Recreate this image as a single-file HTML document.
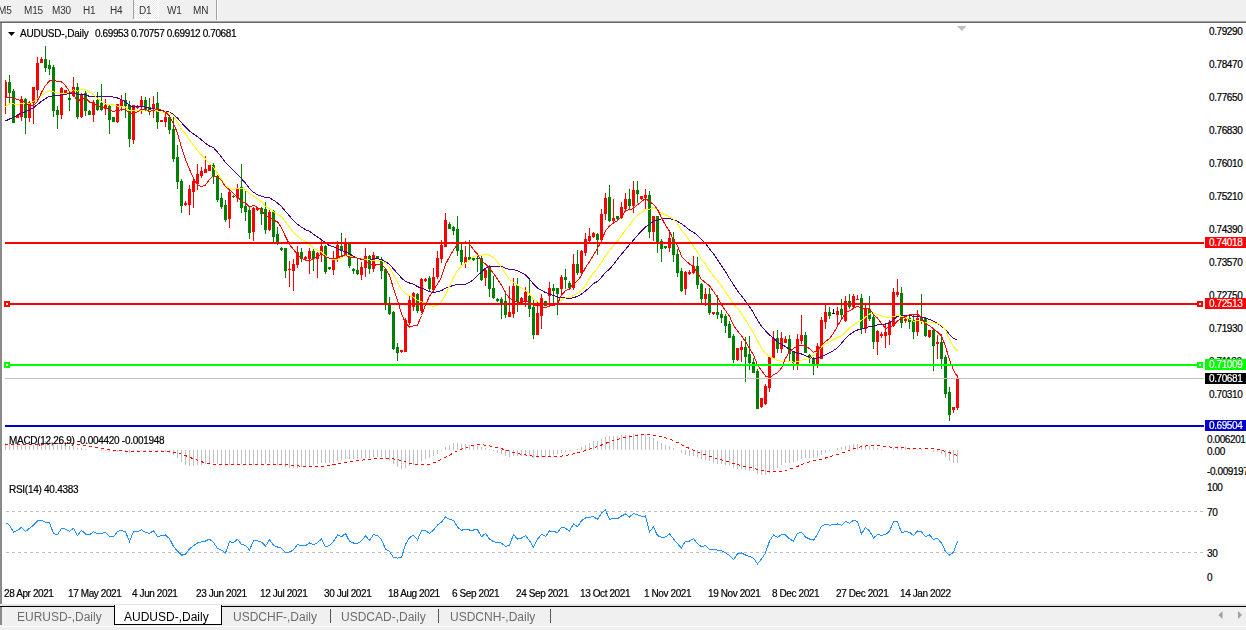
<!DOCTYPE html>
<html><head><meta charset="utf-8"><style>
*{margin:0;padding:0;box-sizing:border-box}
html,body{width:1246px;height:630px;overflow:hidden;background:#f0f0f0;font-family:"Liberation Sans",sans-serif}
.t{position:absolute;white-space:nowrap;line-height:11px;font-size:10px;letter-spacing:-0.4px;color:#000;-webkit-text-stroke:0.2px #000}
#tb span{position:absolute;top:5px;font-size:10px;letter-spacing:-0.2px;color:#333;line-height:11px;will-change:transform}
.ax{position:absolute;font-size:10px;letter-spacing:-0.4px;color:#000;-webkit-text-stroke:0.2px #000;white-space:nowrap;line-height:11px}
.lb{position:absolute;left:1205px;width:41px;height:11px;font-size:10px;letter-spacing:-0.4px;color:#fff;-webkit-text-stroke:0.2px #fff;line-height:11px;padding-left:4px;white-space:nowrap}
.tab{position:absolute;top:608px;height:19px;font-size:12px;color:#6d6d6d;line-height:19px;white-space:nowrap}
</style></head><body>
<div id="tb">
<span style="left:-2px">M5</span><span style="left:24px">M15</span><span style="left:52px">M30</span><span style="left:83px">H1</span><span style="left:110px">H4</span>
<div style="position:absolute;left:133px;top:0;width:1px;height:19px;background:#a0a0a0"></div>
<div style="position:absolute;left:134px;top:0;width:25px;height:20px;background:#fff"></div><div style="position:absolute;left:134px;top:0;width:24px;height:19px;background-image:conic-gradient(#ffffff 25%,#e9e9e9 0 50%,#ffffff 0 75%,#e9e9e9 0);background-size:2px 2px"></div>
<span style="left:139px">D1</span><span style="left:167px">W1</span><span style="left:193px">MN</span>
<div style="position:absolute;left:216px;top:0;width:1px;height:20px;background:#a0a0a0"></div>
<div style="position:absolute;left:217px;top:0;width:1px;height:20px;background:#fff"></div>
</div>
<div style="position:absolute;left:0;top:21px;width:1246px;height:1px;background:#a0a0a0"></div>
<div style="position:absolute;left:0;top:22px;width:1246px;height:1px;background:#696969"></div>
<div style="position:absolute;left:0;top:23px;width:2px;height:581px;background:#8a8a8a"></div><div style="position:absolute;left:0;top:607px;width:2px;height:18px;background:#8a8a8a"></div>
<div style="position:absolute;left:2px;top:23px;width:1244px;height:581px;background:#fff"></div>
<div style="position:absolute;left:2px;top:604px;width:1244px;height:2px;background:#e3e3e3"></div>
<div class="ax" style="left:1209px;top:26px">0.79290</div><div class="ax" style="left:1209px;top:59px">0.78470</div><div class="ax" style="left:1209px;top:92px">0.77650</div><div class="ax" style="left:1209px;top:125px">0.76830</div><div class="ax" style="left:1209px;top:158px">0.76010</div><div class="ax" style="left:1209px;top:191px">0.75210</div><div class="ax" style="left:1209px;top:224px">0.74390</div><div class="ax" style="left:1209px;top:257px">0.73570</div><div class="ax" style="left:1209px;top:290px">0.72750</div><div class="ax" style="left:1209px;top:323px">0.71930</div><div class="ax" style="left:1209px;top:356px">0.71130</div><div class="ax" style="left:1209px;top:389px">0.70310</div><div class="ax" style="left:1207px;top:434px">0.006201</div><div class="ax" style="left:1207px;top:446px">0.00</div><div class="ax" style="left:1207px;top:466px">-0.009197</div><div class="ax" style="left:1207px;top:482px">100</div><div class="ax" style="left:1207px;top:507px">70</div><div class="ax" style="left:1207px;top:548px">30</div><div class="ax" style="left:1207px;top:572px">0</div>
<svg style="position:absolute;left:0;top:0" width="1246" height="630" shape-rendering="crispEdges">
<path d="M8 32h7l-3.5 4z" fill="#000" shape-rendering="auto"/>
<path d="M957 26h9.5l-4.75 5z" fill="#c0c0c0" shape-rendering="auto"/>
<path d="M5.5 80V114M17.5 114V118M21.5 96V121M29.5 101V122M33.5 87V124M37.5 57V100M41.5 57V63M61.5 87V119M65.5 90V93M73.5 77V97M81.5 93V118M93.5 100V122M105.5 99V115M117.5 104V123M121.5 95V111M133.5 105V144M137.5 105V109M141.5 96V114M153.5 96V118M161.5 120V122M165.5 112V127M185.5 201V206M189.5 185V215M193.5 179V208M197.5 164V190M201.5 167V178M205.5 156V173M209.5 165V171M229.5 189V228M237.5 184V202M253.5 207V241M257.5 208V211M269.5 209V231M289.5 261V287M293.5 259V291M297.5 246V268M305.5 256V260M309.5 248V274M317.5 252V278M321.5 240V262M333.5 251V275M337.5 241V262M345.5 238V256M361.5 262V280M365.5 248V277M373.5 252V272M401.5 350V353M405.5 318V352M409.5 296V325M413.5 292V311M421.5 278V313M425.5 278V282M433.5 268V292M437.5 251V279M441.5 240V263M445.5 213V247M465.5 246V268M485.5 268V286M509.5 286V317M513.5 278V318M521.5 297V304M525.5 287V307M537.5 301V335M541.5 294V329M549.5 282V306M561.5 275V296M573.5 254V290M581.5 250V275M585.5 233V256M589.5 228V243M593.5 232V238M601.5 209V241M605.5 193V220M613.5 199V222M621.5 202V219M625.5 193V210M633.5 181V213M641.5 196V200M645.5 189V209M653.5 216V241M669.5 231V252M685.5 271V295M689.5 270V275M693.5 256V274M705.5 288V306M713.5 312V315M737.5 348V361M741.5 341V362M761.5 398V408M765.5 384V405M769.5 356V392M773.5 331V359M781.5 332V353M785.5 336V343M797.5 334V370M801.5 315V344M817.5 343V368M821.5 317V359M825.5 305V329M837.5 307V325M845.5 296V322M853.5 294V308M857.5 295V300M865.5 305V333M877.5 330V355M881.5 332V338M885.5 323V348M889.5 320V345M893.5 288V327M897.5 279V297M905.5 318V323M917.5 310V336M929.5 330V338M937.5 335V359M953.5 407V413M957.5 375V410" stroke="#ff0000" stroke-width="1" fill="none"/><path d="M5 82h2v15h-2zM16 115h3v3h-3zM20 99h3v18h-3zM28 102h3v16h-3zM32 87h3v16h-3zM36 63h3v27h-3zM40 59h3v4h-3zM60 88h3v27h-3zM64 90h3v3h-3zM72 87h3v9h-3zM80 94h3v23h-3zM92 102h3v13h-3zM104 105h3v4h-3zM116 104h3v18h-3zM120 100h3v6h-3zM132 105h3v35h-3zM136 106h3v2h-3zM140 100h3v6h-3zM152 104h3v5h-3zM160 120h3v2h-3zM164 117h3v5h-3zM184 203h3v2h-3zM188 189h3v16h-3zM192 181h3v11h-3zM196 174h3v10h-3zM200 171h3v5h-3zM204 169h3v4h-3zM208 165h3v6h-3zM228 192h3v27h-3zM236 188h3v10h-3zM252 208h3v24h-3zM256 208h3v2h-3zM268 212h3v18h-3zM288 269h3v1h-3zM292 264h3v7h-3zM296 252h3v13h-3zM304 257h3v2h-3zM308 251h3v8h-3zM316 253h3v6h-3zM320 246h3v9h-3zM332 260h3v10h-3zM336 245h3v14h-3zM344 242h3v14h-3zM360 267h3v8h-3zM364 256h3v12h-3zM372 255h3v14h-3zM400 350h3v2h-3zM404 320h3v32h-3zM408 300h3v23h-3zM412 293h3v14h-3zM420 279h3v32h-3zM424 279h3v2h-3zM432 277h3v13h-3zM436 258h3v19h-3zM440 245h3v14h-3zM444 220h3v27h-3zM464 257h3v6h-3zM484 270h3v8h-3zM508 312h3v5h-3zM512 286h3v28h-3zM520 298h3v4h-3zM524 292h3v9h-3zM536 313h3v22h-3zM540 298h3v18h-3zM548 288h3v8h-3zM560 277h3v12h-3zM572 264h3v24h-3zM580 251h3v22h-3zM584 239h3v14h-3zM588 236h3v5h-3zM592 233h3v4h-3zM600 214h3v26h-3zM604 198h3v16h-3zM612 218h3v3h-3zM620 207h3v11h-3zM624 199h3v10h-3zM632 190h3v16h-3zM640 196h3v3h-3zM644 195h3v3h-3zM652 216h3v16h-3zM668 238h3v10h-3zM684 272h3v17h-3zM688 272h3v2h-3zM692 266h3v7h-3zM704 294h3v5h-3zM712 312h3v2h-3zM736 348h3v12h-3zM740 347h3v3h-3zM760 398h3v9h-3zM764 386h3v18h-3zM768 357h3v31h-3zM772 338h3v20h-3zM780 338h3v11h-3zM784 339h3v4h-3zM796 339h3v26h-3zM800 335h3v6h-3zM816 346h3v18h-3zM820 320h3v39h-3zM824 312h3v10h-3zM836 311h3v4h-3zM844 301h3v20h-3zM852 296h3v11h-3zM856 299h3v1h-3zM864 309h3v20h-3zM876 331h3v11h-3zM880 334h3v2h-3zM884 332h3v4h-3zM888 322h3v13h-3zM892 292h3v34h-3zM896 292h3v3h-3zM904 319h3v2h-3zM916 318h3v14h-3zM928 330h3v7h-3zM936 342h3v2h-3zM952 407h3v3h-3zM956 378h3v30h-3z" fill="#ff0000"/><path d="M9.5 75V103M13.5 89V123M25.5 98V134M45.5 46V72M49.5 60V75M53.5 65V117M57.5 106V129M69.5 91V111M77.5 83V119M85.5 91V116M89.5 110V115M97.5 92V111M101.5 84V111M109.5 104V134M113.5 117V122M125.5 93V118M129.5 101V147M145.5 97V111M149.5 98V115M157.5 92V129M169.5 117V134M173.5 117V162M177.5 145V189M181.5 179V213M213.5 163V184M217.5 175V202M221.5 193V209M225.5 200V222M233.5 195V198M241.5 164V213M245.5 189V221M249.5 207V239M261.5 207V225M265.5 202V234M273.5 210V242M277.5 227V245M281.5 247V251M285.5 248V278M301.5 248V262M313.5 249V271M325.5 245V274M329.5 267V270M341.5 233V256M349.5 242V268M353.5 268V274M357.5 259V275M369.5 255V274M377.5 256V259M381.5 257V279M385.5 268V310M389.5 297V315M393.5 311V350M397.5 343V361M417.5 293V313M429.5 276V291M449.5 222V229M453.5 226V235M457.5 216V256M461.5 242V266M469.5 240V261M473.5 258V261M477.5 256V272M481.5 256V281M489.5 265V297M493.5 276V299M497.5 298V302M501.5 297V319M505.5 291V318M517.5 278V312M529.5 280V317M533.5 299V339M545.5 301V306M553.5 284V306M557.5 288V315M565.5 269V289M569.5 281V290M577.5 250V275M597.5 233V255M609.5 185V222M617.5 216V220M629.5 189V210M637.5 181V203M649.5 191V238M657.5 216V253M661.5 239V262M665.5 246V249M673.5 232V262M677.5 249V277M681.5 268V292M697.5 257V289M701.5 283V303M709.5 288V315M717.5 295V319M721.5 310V323M725.5 314V333M729.5 321V338M733.5 334V363M745.5 337V382M749.5 336V370M753.5 358V373M757.5 369V409M777.5 330V353M789.5 335V361M793.5 352V370M805.5 332V353M809.5 354V363M813.5 357V375M829.5 307V319M841.5 299V319M849.5 294V309M861.5 294V334M869.5 296V321M873.5 315V349M901.5 287V328M909.5 314V329M913.5 315V339M921.5 294V324M925.5 317V337M933.5 330V371M941.5 334V369M945.5 355V398M949.5 387V421" stroke="#008000" stroke-width="1" fill="none"/><path d="M8 82h3v11h-3zM12 91h3v32h-3zM24 99h3v19h-3zM44 59h3v9h-3zM48 65h3v4h-3zM52 67h3v44h-3zM56 110h3v5h-3zM68 98h3v2h-3zM76 87h3v30h-3zM84 93h3v18h-3zM88 111h3v4h-3zM96 100h3v10h-3zM100 103h3v7h-3zM108 106h3v14h-3zM112 117h3v5h-3zM124 100h3v6h-3zM128 105h3v34h-3zM144 100h3v10h-3zM148 107h3v5h-3zM156 103h3v19h-3zM168 117h3v13h-3zM172 129h3v30h-3zM176 157h3v25h-3zM180 181h3v25h-3zM212 165h3v12h-3zM216 176h3v24h-3zM220 198h3v9h-3zM224 205h3v15h-3zM232 196h3v1h-3zM240 187h3v21h-3zM244 206h3v6h-3zM248 210h3v23h-3zM260 208h3v6h-3zM264 209h3v21h-3zM272 211h3v26h-3zM276 234h3v10h-3zM280 248h3v2h-3zM284 248h3v23h-3zM300 252h3v7h-3zM312 251h3v8h-3zM324 246h3v26h-3zM328 267h3v2h-3zM340 246h3v4h-3zM348 244h3v22h-3zM352 269h3v2h-3zM356 270h3v4h-3zM368 256h3v13h-3zM376 256h3v3h-3zM380 260h3v11h-3zM384 269h3v35h-3zM388 304h3v10h-3zM392 312h3v37h-3zM396 347h3v6h-3zM416 294h3v17h-3zM428 278h3v11h-3zM448 224h3v5h-3zM452 227h3v4h-3zM456 229h3v22h-3zM460 250h3v12h-3zM468 257h3v3h-3zM472 258h3v2h-3zM476 258h3v1h-3zM480 258h3v22h-3zM488 267h3v22h-3zM492 288h3v10h-3zM496 299h3v2h-3zM500 299h3v4h-3zM504 301h3v14h-3zM516 285h3v17h-3zM528 296h3v13h-3zM532 307h3v28h-3zM544 301h3v5h-3zM552 288h3v3h-3zM556 288h3v6h-3zM564 277h3v3h-3zM568 283h3v5h-3zM576 264h3v9h-3zM596 234h3v6h-3zM608 197h3v24h-3zM616 216h3v3h-3zM628 199h3v7h-3zM636 190h3v4h-3zM648 195h3v37h-3zM656 216h3v27h-3zM660 241h3v8h-3zM664 246h3v2h-3zM672 239h3v16h-3zM676 254h3v19h-3zM680 271h3v20h-3zM696 266h3v19h-3zM700 284h3v15h-3zM708 294h3v19h-3zM716 312h3v3h-3zM720 314h3v4h-3zM724 316h3v10h-3zM728 324h3v14h-3zM732 336h3v24h-3zM744 347h3v10h-3zM748 354h3v9h-3zM752 362h3v11h-3zM756 371h3v38h-3zM776 338h3v11h-3zM788 339h3v15h-3zM792 352h3v11h-3zM804 335h3v18h-3zM808 355h3v4h-3zM812 358h3v6h-3zM828 312h3v4h-3zM840 309h3v6h-3zM848 301h3v6h-3zM860 298h3v31h-3zM868 309h3v10h-3zM872 317h3v25h-3zM900 293h3v30h-3zM908 318h3v4h-3zM912 320h3v12h-3zM920 318h3v3h-3zM924 318h3v18h-3zM932 330h3v16h-3zM940 342h3v17h-3zM944 357h3v37h-3zM948 392h3v23h-3z" fill="#008000"/><path d="M833.5 309V314" stroke="#000000" stroke-width="1" fill="none"/><path d="M832 313h3v1h-3z" fill="#000000"/>
<polyline points="5.5,121.0 9.5,119.0 13.5,117.3 17.5,115.1 21.5,112.9 25.5,111.7 29.5,110.0 33.5,107.7 37.5,104.5 41.5,101.3 45.5,98.6 49.5,96.2 53.5,95.9 57.5,95.9 61.5,94.9 65.5,94.1 69.5,93.9 73.5,93.3 77.5,94.1 81.5,94.1 85.5,94.9 89.5,96.4 93.5,96.9 97.5,96.3 101.5,96.0 105.5,96.2 109.5,96.3 113.5,97.2 117.5,98.0 121.5,99.7 125.5,102.0 129.5,105.4 133.5,107.1 137.5,106.9 141.5,106.3 145.5,107.2 149.5,108.2 153.5,108.4 157.5,110.1 161.5,110.2 165.5,111.3 169.5,112.2 173.5,114.4 177.5,118.1 181.5,122.7 185.5,127.1 189.5,131.1 193.5,134.1 197.5,136.7 201.5,139.9 205.5,143.2 209.5,146.0 213.5,147.7 217.5,152.2 221.5,157.0 225.5,162.6 229.5,166.6 233.5,170.7 237.5,174.7 241.5,178.7 245.5,183.1 249.5,188.6 253.5,192.3 257.5,194.7 261.5,196.2 265.5,197.4 269.5,197.8 273.5,200.1 277.5,203.0 281.5,206.6 285.5,211.3 289.5,216.0 293.5,220.8 297.5,224.4 301.5,227.2 305.5,229.7 309.5,231.2 313.5,234.3 317.5,237.0 321.5,239.8 325.5,242.9 329.5,245.6 333.5,246.9 337.5,248.7 341.5,250.6 345.5,252.0 349.5,253.7 353.5,256.5 357.5,258.2 361.5,259.4 365.5,259.7 369.5,259.7 373.5,259.0 377.5,258.7 381.5,259.5 385.5,261.7 389.5,264.3 393.5,268.9 397.5,273.4 401.5,278.0 405.5,281.6 409.5,283.0 413.5,284.2 417.5,286.6 421.5,288.2 425.5,289.6 429.5,291.8 433.5,292.4 437.5,291.8 441.5,290.5 445.5,288.3 449.5,286.9 453.5,285.1 457.5,284.8 461.5,285.0 465.5,284.4 469.5,282.3 473.5,279.7 477.5,275.5 481.5,272.0 485.5,268.2 489.5,266.6 493.5,266.5 497.5,266.8 501.5,266.4 505.5,268.1 509.5,269.6 513.5,269.5 517.5,270.7 521.5,272.6 525.5,274.9 529.5,279.1 533.5,284.1 537.5,288.1 541.5,290.3 545.5,292.5 549.5,294.0 553.5,295.4 557.5,297.0 561.5,297.9 565.5,297.9 569.5,298.8 573.5,297.6 577.5,296.4 581.5,294.1 585.5,291.1 589.5,287.4 593.5,283.6 597.5,281.4 601.5,277.2 605.5,272.5 609.5,269.0 613.5,264.7 617.5,259.2 621.5,254.2 625.5,249.4 629.5,244.7 633.5,240.0 637.5,235.4 641.5,230.8 645.5,226.9 649.5,224.5 653.5,221.1 657.5,220.1 661.5,218.9 665.5,218.7 669.5,218.7 673.5,219.6 677.5,221.4 681.5,223.8 685.5,226.6 689.5,230.1 693.5,232.3 697.5,235.4 701.5,239.2 705.5,243.4 709.5,248.8 713.5,253.8 717.5,259.7 721.5,265.6 725.5,271.7 729.5,278.5 733.5,284.6 737.5,290.9 741.5,295.9 745.5,301.1 749.5,306.6 753.5,312.9 757.5,320.2 761.5,326.3 765.5,330.8 769.5,334.9 773.5,338.0 777.5,341.9 781.5,344.5 785.5,346.5 789.5,349.3 793.5,351.7 797.5,353.0 801.5,354.0 805.5,355.7 809.5,357.2 813.5,358.5 817.5,357.9 821.5,356.5 825.5,354.9 829.5,352.9 833.5,350.6 837.5,347.7 841.5,343.2 845.5,338.6 849.5,334.8 853.5,331.9 857.5,330.0 861.5,329.1 865.5,327.7 869.5,326.7 873.5,326.1 877.5,324.7 881.5,324.4 885.5,324.3 889.5,322.9 893.5,319.7 897.5,316.3 901.5,315.2 905.5,315.1 909.5,315.6 913.5,316.3 917.5,316.6 921.5,317.0 925.5,318.0 929.5,319.4 933.5,321.3 937.5,323.4 941.5,326.2 945.5,329.3 949.5,334.3 953.5,338.5 957.5,340.3" fill="none" stroke="#4b0082" stroke-width="1" /><polyline points="5.5,106.7 9.5,104.0 13.5,103.9 17.5,104.5 21.5,103.8 25.5,103.9 29.5,103.1 33.5,101.5 37.5,98.4 41.5,95.2 45.5,92.8 49.5,90.6 53.5,91.7 57.5,93.2 61.5,93.6 65.5,93.5 69.5,91.9 73.5,89.9 77.5,91.1 81.5,89.4 85.5,90.0 89.5,91.9 93.5,94.6 97.5,98.2 101.5,101.2 105.5,103.9 109.5,104.5 113.5,105.0 117.5,106.1 121.5,106.8 125.5,107.2 129.5,110.9 133.5,110.1 137.5,111.0 141.5,110.2 145.5,109.9 149.5,110.5 153.5,110.1 157.5,111.0 161.5,112.1 165.5,112.0 169.5,112.6 173.5,116.4 177.5,122.2 181.5,129.3 185.5,133.9 189.5,139.9 193.5,145.2 197.5,150.6 201.5,155.0 205.5,159.2 209.5,163.5 213.5,167.4 217.5,173.1 221.5,179.4 225.5,185.8 229.5,188.3 233.5,189.4 237.5,188.1 241.5,188.4 245.5,190.0 249.5,193.6 253.5,196.0 257.5,198.7 261.5,201.8 265.5,206.4 269.5,209.0 273.5,211.6 277.5,214.3 281.5,216.5 285.5,222.0 289.5,227.2 293.5,232.7 297.5,236.0 301.5,239.3 305.5,241.1 309.5,244.2 313.5,247.7 317.5,250.6 321.5,251.8 325.5,256.0 329.5,258.3 333.5,259.5 337.5,259.2 341.5,257.7 345.5,255.8 349.5,255.8 353.5,257.1 357.5,258.2 361.5,258.9 365.5,259.2 369.5,260.0 373.5,260.2 377.5,261.0 381.5,260.9 385.5,263.4 389.5,267.2 393.5,274.6 397.5,281.9 401.5,289.7 405.5,293.6 409.5,295.7 413.5,297.2 417.5,300.3 421.5,301.9 425.5,302.6 429.5,305.0 433.5,306.4 437.5,305.5 441.5,301.4 445.5,294.8 449.5,286.1 453.5,277.4 457.5,270.3 461.5,266.1 465.5,263.0 469.5,260.6 473.5,256.9 477.5,255.5 481.5,255.5 485.5,254.2 489.5,254.9 493.5,257.7 497.5,261.6 501.5,267.5 505.5,273.7 509.5,279.5 513.5,282.1 517.5,285.0 521.5,287.9 525.5,290.3 529.5,293.8 533.5,299.1 537.5,301.6 541.5,303.6 545.5,304.8 549.5,304.2 553.5,303.5 557.5,302.9 561.5,300.2 565.5,297.9 569.5,298.0 573.5,295.3 577.5,293.4 581.5,290.5 585.5,285.5 589.5,278.6 593.5,272.9 597.5,268.7 601.5,262.2 605.5,255.7 609.5,250.7 613.5,245.3 617.5,241.1 621.5,235.9 625.5,229.6 629.5,225.3 633.5,219.5 637.5,215.4 641.5,212.4 645.5,209.4 649.5,209.3 653.5,207.6 657.5,209.6 661.5,213.1 665.5,215.0 669.5,216.5 673.5,219.1 677.5,223.7 681.5,230.2 685.5,235.0 689.5,240.8 693.5,246.0 697.5,252.3 701.5,259.6 705.5,264.1 709.5,271.0 713.5,276.0 717.5,280.8 721.5,285.8 725.5,291.9 729.5,297.8 733.5,304.1 737.5,308.3 741.5,313.6 745.5,319.6 749.5,326.5 753.5,332.8 757.5,340.6 761.5,348.1 765.5,353.4 769.5,356.6 773.5,358.3 777.5,360.5 781.5,361.4 785.5,361.6 789.5,361.2 793.5,362.2 797.5,361.6 801.5,360.1 805.5,359.4 809.5,358.4 813.5,355.2 817.5,351.5 821.5,346.8 825.5,343.6 829.5,341.9 833.5,339.5 837.5,337.5 841.5,335.7 845.5,332.0 849.5,328.0 853.5,324.9 857.5,322.3 861.5,320.6 865.5,317.1 869.5,313.9 873.5,313.6 877.5,314.4 881.5,316.0 885.5,317.2 889.5,317.9 893.5,316.5 897.5,314.9 901.5,316.4 905.5,317.4 909.5,319.2 913.5,321.5 917.5,320.7 921.5,321.5 925.5,322.7 929.5,321.9 933.5,322.8 937.5,323.4 941.5,325.2 945.5,330.2 949.5,339.0 953.5,347.2 957.5,351.2" fill="none" stroke="#ffff00" stroke-width="1" /><polyline points="5.5,97.9 9.5,97.9 13.5,98.1 17.5,99.8 21.5,100.3 25.5,103.4 29.5,104.7 33.5,105.4 37.5,101.3 41.5,92.4 45.5,85.5 49.5,81.0 53.5,79.9 57.5,81.6 61.5,81.8 65.5,85.7 69.5,91.4 73.5,94.3 77.5,101.2 81.5,98.9 85.5,98.3 89.5,102.0 93.5,103.6 97.5,105.0 101.5,108.2 105.5,106.5 109.5,110.1 113.5,111.6 117.5,110.3 121.5,109.9 125.5,109.4 129.5,113.6 133.5,113.7 137.5,111.9 141.5,108.9 145.5,109.5 149.5,111.1 153.5,110.9 157.5,108.4 161.5,110.4 165.5,112.1 169.5,116.2 173.5,123.3 177.5,133.3 181.5,147.8 185.5,159.4 189.5,169.3 193.5,178.4 197.5,184.9 201.5,186.7 205.5,185.0 209.5,179.3 213.5,175.4 217.5,176.9 221.5,180.4 225.5,186.8 229.5,189.8 233.5,193.7 237.5,196.9 241.5,201.4 245.5,203.1 249.5,206.8 253.5,205.3 257.5,207.5 261.5,210.0 265.5,215.9 269.5,216.7 273.5,220.2 277.5,221.8 281.5,227.7 285.5,236.5 289.5,244.5 293.5,249.5 297.5,255.2 301.5,258.4 305.5,260.4 309.5,260.7 313.5,259.0 317.5,256.7 321.5,254.0 325.5,256.7 329.5,258.2 333.5,258.6 337.5,257.6 341.5,256.4 345.5,254.8 349.5,257.6 353.5,257.5 357.5,258.1 361.5,259.1 365.5,260.8 369.5,263.6 373.5,265.5 377.5,264.5 381.5,264.3 385.5,268.6 389.5,275.3 393.5,288.4 397.5,300.3 401.5,313.8 405.5,322.7 409.5,327.1 413.5,325.7 417.5,325.3 421.5,315.5 425.5,305.0 429.5,296.2 433.5,290.0 437.5,284.0 441.5,277.1 445.5,264.2 449.5,256.8 453.5,249.9 457.5,244.4 461.5,242.1 465.5,242.0 469.5,244.0 473.5,249.7 477.5,254.1 481.5,261.1 485.5,263.9 489.5,267.8 493.5,273.5 497.5,279.2 501.5,285.3 505.5,293.3 509.5,298.0 513.5,300.3 517.5,302.2 521.5,302.4 525.5,301.3 529.5,302.2 533.5,305.0 537.5,305.1 541.5,306.8 545.5,307.4 549.5,306.0 553.5,305.7 557.5,303.5 561.5,295.4 565.5,290.7 569.5,289.1 573.5,283.3 577.5,280.9 581.5,275.3 585.5,267.6 589.5,261.7 593.5,255.1 597.5,248.2 601.5,241.1 605.5,230.5 609.5,226.1 613.5,223.1 617.5,220.5 621.5,216.7 625.5,210.9 629.5,209.6 633.5,208.6 637.5,204.8 641.5,201.7 645.5,198.4 649.5,201.8 653.5,204.3 657.5,209.5 661.5,217.6 665.5,225.3 669.5,231.3 673.5,239.8 677.5,245.6 681.5,256.2 685.5,260.5 689.5,264.0 693.5,266.7 697.5,273.3 701.5,279.4 705.5,282.7 709.5,285.8 713.5,291.5 717.5,297.5 721.5,304.8 725.5,310.6 729.5,316.2 733.5,325.5 737.5,330.8 741.5,335.8 745.5,341.7 749.5,348.2 753.5,354.9 757.5,365.0 761.5,370.6 765.5,376.0 769.5,377.4 773.5,374.9 777.5,372.8 781.5,368.0 785.5,358.2 789.5,351.8 793.5,348.4 797.5,345.9 801.5,345.4 805.5,346.0 809.5,348.8 813.5,352.2 817.5,351.3 821.5,345.3 825.5,341.4 829.5,338.5 833.5,333.0 837.5,326.2 841.5,319.2 845.5,312.7 849.5,310.7 853.5,308.4 857.5,306.1 861.5,308.3 865.5,308.1 869.5,308.7 873.5,314.4 877.5,318.1 881.5,323.5 885.5,328.3 889.5,327.5 893.5,324.9 897.5,321.1 901.5,318.4 905.5,316.6 909.5,314.8 913.5,314.6 917.5,314.0 921.5,318.0 925.5,324.3 929.5,325.4 933.5,329.1 937.5,332.0 941.5,335.8 945.5,346.5 949.5,359.9 953.5,370.1 957.5,377.0" fill="none" stroke="#ff0000" stroke-width="1" />
<rect x="5" y="242" width="1199" height="2" fill="#ff0000"/>
<rect x="9" y="303" width="1189" height="2" fill="#ff0000"/>
<path d="M4 301h6v6h-6zM6 303v2h2v-2z M1197 301h6v6h-6zM1199 303v2h2v-2z" fill="#ff0000" fill-rule="evenodd"/>
<rect x="9" y="364" width="1189" height="2" fill="#00ff00"/>
<path d="M4 362h6v6h-6zM6 364v2h2v-2z M1197 362h6v6h-6zM1199 364v2h2v-2z" fill="#00ff00" fill-rule="evenodd"/>
<rect x="5" y="378" width="1199" height="1" fill="#c0c0c0"/>
<rect x="5" y="425" width="1199" height="2" fill="#0000cd"/>
<path d="M5.5 443V450M9.5 443V450M13.5 445V450M17.5 445V450M21.5 445V450M25.5 446V450M29.5 446V450M33.5 445V450M37.5 443V450M41.5 442V450M45.5 441V450M49.5 440V450M53.5 443V450M57.5 445V450M61.5 445V450M65.5 445V450M69.5 446V450M73.5 446V450M77.5 448V450M81.5 448V450M85.5 449V450M89.5 450V450M93.5 450V450M97.5 450V450M101.5 450V451M105.5 450V451M109.5 450V452M113.5 450V452M117.5 450V452M121.5 450V451M125.5 450V451M129.5 450V453M133.5 450V452M137.5 450V452M141.5 450V451M145.5 450V451M149.5 450V451M153.5 450V451M157.5 450V452M161.5 450V452M165.5 450V452M169.5 450V453M173.5 450V455M177.5 450V458M181.5 450V462M185.5 450V465M189.5 450V466M193.5 450V466M197.5 450V465M201.5 450V465M205.5 450V464M209.5 450V463M213.5 450V463M217.5 450V464M221.5 450V465M225.5 450V466M229.5 450V465M233.5 450V465M237.5 450V464M241.5 450V464M245.5 450V464M249.5 450V465M253.5 450V465M257.5 450V464M261.5 450V464M265.5 450V464M269.5 450V463M273.5 450V464M277.5 450V465M281.5 450V465M285.5 450V467M289.5 450V468M293.5 450V468M297.5 450V468M301.5 450V467M305.5 450V467M309.5 450V466M313.5 450V465M317.5 450V464M321.5 450V463M325.5 450V463M329.5 450V463M333.5 450V463M337.5 450V461M341.5 450V460M345.5 450V459M349.5 450V459M353.5 450V459M357.5 450V459M361.5 450V459M365.5 450V458M369.5 450V458M373.5 450V457M377.5 450V457M381.5 450V457M385.5 450V459M389.5 450V461M393.5 450V464M397.5 450V467M401.5 450V469M405.5 450V468M409.5 450V466M413.5 450V465M417.5 450V464M421.5 450V461M425.5 450V459M429.5 450V458M433.5 450V456M437.5 450V454M441.5 450V451M445.5 447V450M449.5 445V450M453.5 443V450M457.5 443V450M461.5 444V450M465.5 444V450M469.5 445V450M473.5 445V450M477.5 446V450M481.5 447V450M485.5 448V450M489.5 449V450M493.5 450V451M497.5 450V453M501.5 450V454M505.5 450V456M509.5 450V457M513.5 450V456M517.5 450V456M521.5 450V456M525.5 450V456M529.5 450V456M533.5 450V458M537.5 450V458M541.5 450V457M545.5 450V457M549.5 450V456M553.5 450V455M557.5 450V454M561.5 450V453M565.5 450V452M569.5 450V451M573.5 450V450M577.5 449V450M581.5 447V450M585.5 445V450M589.5 443V450M593.5 441V450M597.5 441V450M601.5 439V450M605.5 437V450M609.5 436V450M613.5 436V450M617.5 436V450M621.5 435V450M625.5 435V450M629.5 435V450M633.5 434V450M637.5 434V450M641.5 434V450M645.5 434V450M649.5 437V450M653.5 438V450M657.5 441V450M661.5 443V450M665.5 445V450M669.5 446V450M673.5 448V450M677.5 450V450M681.5 450V453M685.5 450V455M689.5 450V456M693.5 450V456M697.5 450V457M701.5 450V459M705.5 450V460M709.5 450V461M713.5 450V463M717.5 450V464M721.5 450V464M725.5 450V465M729.5 450V466M733.5 450V468M737.5 450V469M741.5 450V469M745.5 450V470M749.5 450V471M753.5 450V471M757.5 450V474M761.5 450V475M765.5 450V475M769.5 450V473M773.5 450V470M777.5 450V468M781.5 450V465M785.5 450V463M789.5 450V463M793.5 450V462M797.5 450V461M801.5 450V459M805.5 450V458M809.5 450V458M813.5 450V458M817.5 450V457M821.5 450V455M825.5 450V453M829.5 450V451M833.5 450V450M837.5 448V450M841.5 447V450M845.5 446V450M849.5 445V450M853.5 444V450M857.5 444V450M861.5 445V450M865.5 445V450M869.5 446V450M873.5 447V450M877.5 448V450M881.5 449V450M885.5 450V450M889.5 450V450M893.5 448V450M897.5 446V450M901.5 447V450M905.5 447V450M909.5 448V450M913.5 449V450M917.5 449V450M921.5 449V450M925.5 450V450M929.5 450V450M933.5 450V452M937.5 450V452M941.5 450V454M945.5 450V457M949.5 450V461M953.5 450V463M957.5 450V463" stroke="#c0c0c0" stroke-width="1" fill="none"/><polyline points="5.5,444.8 9.5,444.5 13.5,444.5 17.5,444.5 21.5,444.6 25.5,444.7 29.5,444.9 33.5,444.9 37.5,444.8 41.5,444.6 45.5,444.4 49.5,444.0 53.5,443.7 57.5,443.6 61.5,443.4 65.5,443.3 69.5,443.3 73.5,443.6 77.5,444.2 81.5,445.0 85.5,445.9 89.5,446.7 93.5,447.2 97.5,447.9 101.5,448.5 105.5,449.0 109.5,449.7 113.5,450.2 117.5,450.7 121.5,451.0 125.5,451.2 129.5,451.5 133.5,451.7 137.5,451.9 141.5,452.0 145.5,451.9 149.5,451.8 153.5,451.7 157.5,451.7 161.5,451.8 165.5,451.7 169.5,451.8 173.5,452.2 177.5,452.9 181.5,454.1 185.5,455.6 189.5,457.2 193.5,458.8 197.5,460.3 201.5,461.7 205.5,462.9 209.5,463.8 213.5,464.2 217.5,464.4 221.5,464.4 225.5,464.4 229.5,464.3 233.5,464.2 237.5,464.1 241.5,464.1 245.5,464.2 249.5,464.5 253.5,464.6 257.5,464.6 261.5,464.3 265.5,464.2 269.5,464.1 273.5,464.1 277.5,464.2 281.5,464.3 285.5,464.5 289.5,464.9 293.5,465.4 297.5,465.9 301.5,466.2 305.5,466.6 309.5,466.8 313.5,466.9 317.5,466.8 321.5,466.3 325.5,465.8 329.5,465.3 333.5,464.7 337.5,464.0 341.5,463.2 345.5,462.4 349.5,461.7 353.5,461.1 357.5,460.7 361.5,460.2 365.5,459.7 369.5,459.2 373.5,458.8 377.5,458.4 381.5,458.2 385.5,458.1 389.5,458.3 393.5,458.8 397.5,459.7 401.5,460.8 405.5,461.9 409.5,463.0 413.5,463.8 417.5,464.6 421.5,464.9 425.5,464.8 429.5,464.1 433.5,462.9 437.5,461.3 441.5,459.4 445.5,457.3 449.5,455.1 453.5,452.9 457.5,450.9 461.5,449.2 465.5,447.7 469.5,446.4 473.5,445.5 477.5,444.9 481.5,444.8 485.5,445.1 489.5,445.8 493.5,446.7 497.5,447.6 501.5,448.7 505.5,449.9 509.5,451.2 513.5,452.3 517.5,453.4 521.5,454.3 525.5,455.0 529.5,455.6 533.5,456.2 537.5,456.7 541.5,456.9 545.5,456.9 549.5,456.9 553.5,456.7 557.5,456.4 561.5,456.1 565.5,455.5 569.5,454.8 573.5,453.8 577.5,452.8 581.5,451.7 585.5,450.4 589.5,449.1 593.5,447.7 597.5,446.4 601.5,445.0 605.5,443.4 609.5,441.9 613.5,440.5 617.5,439.3 621.5,438.3 625.5,437.3 629.5,436.6 633.5,435.9 637.5,435.3 641.5,435.0 645.5,434.8 649.5,434.9 653.5,435.1 657.5,435.7 661.5,436.6 665.5,437.8 669.5,439.1 673.5,440.7 677.5,442.5 681.5,444.6 685.5,446.6 689.5,448.5 693.5,450.2 697.5,451.8 701.5,453.3 705.5,454.8 709.5,456.3 713.5,457.7 717.5,458.8 721.5,459.9 725.5,461.0 729.5,462.1 733.5,463.4 737.5,464.5 741.5,465.6 745.5,466.6 749.5,467.4 753.5,468.3 757.5,469.3 761.5,470.4 765.5,471.3 769.5,471.8 773.5,471.8 777.5,471.6 781.5,471.1 785.5,470.3 789.5,469.3 793.5,468.0 797.5,466.5 801.5,464.7 805.5,463.1 809.5,461.9 813.5,460.9 817.5,460.0 821.5,459.1 825.5,458.0 829.5,456.7 833.5,455.5 837.5,454.4 841.5,453.1 845.5,451.8 849.5,450.4 853.5,448.9 857.5,447.6 861.5,446.8 865.5,446.1 869.5,445.7 873.5,445.6 877.5,445.6 881.5,445.9 885.5,446.4 889.5,447.0 893.5,447.4 897.5,447.6 901.5,447.8 905.5,448.0 909.5,448.0 913.5,448.1 917.5,448.1 921.5,448.0 925.5,448.0 929.5,448.3 933.5,448.9 937.5,449.5 941.5,450.2 945.5,451.3 949.5,452.6 953.5,454.2 957.5,455.7" fill="none" stroke="#ff0000" stroke-width="1" stroke-dasharray="3,3"/>
<path d="M6 511.5H1204M6 552.5H1204" stroke="#c0c0c0" stroke-width="1" stroke-dasharray="3,3"/>
<polyline points="5.5,522.7 9.5,525.1 13.5,532.0 17.5,530.6 21.5,527.3 25.5,531.5 29.5,528.3 33.5,525.2 37.5,520.9 41.5,520.2 45.5,522.4 49.5,522.8 53.5,533.6 57.5,534.5 61.5,528.5 65.5,529.1 69.5,531.3 73.5,528.4 77.5,535.5 81.5,530.3 85.5,534.0 89.5,534.8 93.5,531.8 97.5,533.6 101.5,533.6 105.5,532.3 109.5,536.4 113.5,536.8 117.5,531.5 121.5,530.2 125.5,532.0 129.5,541.4 133.5,531.4 137.5,531.6 141.5,529.8 145.5,532.5 149.5,533.3 153.5,530.8 157.5,536.4 161.5,535.8 165.5,535.0 169.5,538.7 173.5,546.4 177.5,551.2 181.5,555.2 185.5,554.4 189.5,548.7 193.5,545.7 197.5,543.0 201.5,541.8 205.5,541.0 209.5,539.1 213.5,542.4 217.5,548.5 221.5,550.1 225.5,552.9 229.5,541.6 233.5,542.7 237.5,539.3 241.5,544.3 245.5,545.3 249.5,550.1 253.5,540.8 257.5,540.8 261.5,542.2 265.5,546.1 269.5,539.7 273.5,545.3 277.5,547.0 281.5,548.2 285.5,552.3 289.5,552.0 293.5,549.9 297.5,544.6 301.5,546.0 305.5,545.7 309.5,543.0 313.5,544.9 317.5,542.6 321.5,539.1 325.5,546.8 329.5,545.7 333.5,541.4 337.5,535.0 341.5,536.7 345.5,533.5 349.5,541.3 353.5,543.0 357.5,543.6 361.5,540.8 365.5,536.1 369.5,540.3 373.5,534.6 377.5,535.5 381.5,539.8 385.5,549.0 389.5,551.4 393.5,557.6 397.5,558.1 401.5,557.4 405.5,544.4 409.5,537.7 413.5,535.3 417.5,539.8 421.5,530.7 425.5,530.6 429.5,533.4 433.5,530.1 437.5,525.1 441.5,522.0 445.5,516.9 449.5,519.5 453.5,520.3 457.5,527.1 461.5,530.3 465.5,529.2 469.5,530.0 473.5,530.0 477.5,529.7 481.5,536.8 485.5,533.5 489.5,539.1 493.5,541.6 497.5,542.5 501.5,543.1 505.5,546.5 509.5,545.4 513.5,534.4 517.5,539.2 521.5,538.0 525.5,535.5 529.5,540.6 533.5,547.4 537.5,539.2 541.5,534.4 545.5,536.4 549.5,531.0 553.5,531.5 557.5,532.5 561.5,527.3 565.5,528.2 569.5,531.1 573.5,523.9 577.5,526.7 581.5,520.8 585.5,518.0 589.5,517.3 593.5,516.6 597.5,519.2 601.5,513.1 605.5,509.9 609.5,519.2 613.5,518.8 617.5,518.8 621.5,516.0 625.5,514.0 629.5,517.1 633.5,513.5 637.5,514.9 641.5,516.3 645.5,516.0 649.5,531.9 653.5,527.0 657.5,535.6 661.5,537.3 665.5,537.0 669.5,533.8 673.5,538.9 677.5,543.7 681.5,548.0 685.5,541.0 689.5,541.0 693.5,538.7 697.5,543.7 701.5,546.9 705.5,545.5 709.5,549.6 713.5,549.6 717.5,550.1 721.5,550.8 725.5,552.8 729.5,555.4 733.5,559.6 737.5,553.9 741.5,553.0 745.5,555.0 749.5,556.4 753.5,558.2 757.5,563.8 761.5,559.0 765.5,552.9 769.5,541.1 773.5,535.0 777.5,537.5 781.5,534.6 785.5,534.8 789.5,538.9 793.5,541.2 797.5,533.4 801.5,532.1 805.5,537.0 809.5,539.0 813.5,540.2 817.5,534.2 821.5,526.3 825.5,524.1 829.5,525.2 833.5,524.7 837.5,524.0 841.5,525.3 845.5,521.3 849.5,523.3 853.5,520.2 857.5,521.7 861.5,533.9 865.5,527.5 869.5,530.8 873.5,537.9 877.5,534.5 881.5,535.3 885.5,534.7 889.5,531.1 893.5,521.7 897.5,521.7 901.5,532.7 905.5,531.5 909.5,532.2 913.5,535.5 917.5,531.0 921.5,531.8 925.5,536.9 929.5,534.9 933.5,539.6 937.5,538.3 941.5,543.2 945.5,551.4 949.5,555.1 953.5,552.3 957.5,541.3" fill="none" stroke="#1e90ff" stroke-width="1" />
</svg>
<div class="lb" style="top:237px;background:#ff0000">0.74018</div><div class="lb" style="top:298px;background:#ff0000">0.72513</div><div class="lb" style="top:359px;background:#00ff00">0.71009</div><div class="lb" style="top:373px;background:#000000">0.70681</div><div class="lb" style="top:420px;background:#0000cd">0.69504</div>
<div class="t" style="left:20px;top:28px;letter-spacing:-0.15px">AUDUSD-,Daily</div><div class="t" style="left:95px;top:28px;letter-spacing:-0.38px">0.69953 0.70757 0.69912 0.70681</div>
<div class="t" style="left:9px;top:435px;letter-spacing:-0.3px">MACD(12,26,9) -0.004420 -0.001948</div>
<div class="t" style="left:9px;top:484px;letter-spacing:-0.27px">RSI(14) 40.4383</div>
<div class="ax" style="left:4px;top:588px">28 Apr 2021</div><div class="ax" style="left:68px;top:588px">17 May 2021</div><div class="ax" style="left:132px;top:588px">4 Jun 2021</div><div class="ax" style="left:196px;top:588px">23 Jun 2021</div><div class="ax" style="left:260px;top:588px">12 Jul 2021</div><div class="ax" style="left:324px;top:588px">30 Jul 2021</div><div class="ax" style="left:388px;top:588px">18 Aug 2021</div><div class="ax" style="left:452px;top:588px">6 Sep 2021</div><div class="ax" style="left:516px;top:588px">24 Sep 2021</div><div class="ax" style="left:580px;top:588px">13 Oct 2021</div><div class="ax" style="left:644px;top:588px">1 Nov 2021</div><div class="ax" style="left:708px;top:588px">19 Nov 2021</div><div class="ax" style="left:772px;top:588px">8 Dec 2021</div><div class="ax" style="left:836px;top:588px">27 Dec 2021</div><div class="ax" style="left:900px;top:588px">14 Jan 2022</div>
<div style="position:absolute;left:0;top:606px;width:1246px;height:1px;background:#000"></div>
<div style="position:absolute;left:0;top:626px;width:1246px;height:1px;background:#fff"></div>
<div style="position:absolute;left:114px;top:605px;width:108px;height:20px;background:#fff;border:1px solid #000;border-top:none"></div>
<div class="tab" style="left:17px">EURUSD-,Daily</div>
<div class="tab" style="left:124px;color:#000">AUDUSD-,Daily</div>
<div class="tab" style="left:233px">USDCHF-,Daily</div>
<div class="tab" style="left:341px">USDCAD-,Daily</div>
<div class="tab" style="left:450px">USDCNH-,Daily</div>
<div style="position:absolute;left:330px;top:609px;width:1px;height:14px;background:#555"></div>
<div style="position:absolute;left:438px;top:609px;width:1px;height:14px;background:#555"></div>
<div style="position:absolute;left:550px;top:609px;width:1px;height:14px;background:#555"></div>
<svg style="position:absolute;left:1210px;top:607px" width="36" height="14"><path d="M12.5 4v8l-4-4z" fill="#a0a0a0"/><path d="M28 4v8l4-4z" fill="#a0a0a0"/></svg>
</body></html>
